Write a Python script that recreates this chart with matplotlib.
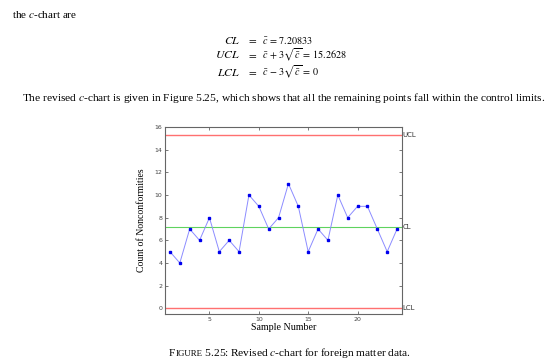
import matplotlib
matplotlib.use("Agg")
import numpy as np
from matplotlib import pyplot as plt

plt.rcParams['mathtext.fontset'] = 'stix'

# revised c-chart data (24 samples)
samples = list(range(1, 25))
counts = [5, 4, 7, 6, 8, 5, 6, 5, 10, 9, 7, 8, 11, 9, 5, 7, 6, 10, 8, 9, 9, 7, 5, 7]

cbar = np.mean(counts)
ucl = cbar + 3 * np.sqrt(cbar)
lcl = max(0, cbar - 3 * np.sqrt(cbar))

serif = 'Liberation Serif'

fig = plt.figure(figsize=(5.6, 3.64), dpi=100)

# page text above the figure
fig.text(12/560, 1 - 15/364, 'the $c$-chart are', family=serif, fontsize=8, va='center')
rows = [('$CL$', r'$\bar{c}\,=\,7.20833$', 40),
        ('$UCL$', r'$\bar{c}\,+\,3\sqrt{\bar{c}}\,=\,15.2628$', 55),
        ('$LCL$', r'$\bar{c}\,-\,3\sqrt{\bar{c}}\,=\,0$', 72)]
for lhs, rhs, y in rows:
    fig.text(240/560, 1 - y/364, lhs, fontsize=8.5, ha='right', va='center')
    fig.text(252/560, 1 - y/364, '$=$', fontsize=8, ha='center', va='center')
    fig.text(262/560, 1 - y/364, rhs, fontsize=7.3, ha='left', va='center')

fig.text(22/560, 1 - 98/364,
         'The revised $c$-chart is given in Figure 5.25, which shows that all the remaining points fall within the control limits.',
         family=serif, fontsize=8.2, va='center', ha='left')

ax = fig.add_axes([165/560, 50/364, 237/560, 187/364])
ax.axhline(ucl, color='#ff7070', lw=1)
ax.axhline(cbar, color='#5fd35f', lw=0.8)
ax.axhline(lcl, color='#ff7070', lw=1)
ax.plot(samples, counts, color='#8c8cff', lw=0.7, marker='s', ms=2,
        mfc='#0000ee', mec='#0000ee')

ax.set_xlim(0.5, 24.5)
ax.set_ylim(-0.5, 16)
ax.set_xticks([5, 10, 15, 20])
ax.set_yticks(range(0, 17, 2))
ax.tick_params(direction='in', length=2, width=0.5, labelsize=4.5, colors='#444444',
               top=True, right=True, pad=2)
for s in ax.spines.values():
    s.set_color('#666666')
    s.set_linewidth(0.8)

for val, lab in [(ucl, 'UCL'), (cbar, 'CL'), (lcl, 'LCL')]:
    ax.text(24.55, val, lab, fontsize=5, va='center', ha='left', color='#333333')

ax.set_xlabel('Sample Number', family=serif, fontsize=7.2, labelpad=1)
ax.set_ylabel('Count of Nonconformities', family=serif, fontsize=7, labelpad=6)

# caption with small-caps "FIGURE"
cap_y = 1 - 356/364
fig.canvas.draw()
r = fig.canvas.get_renderer()
parts = [('F', 8.2), ('IGURE', 6.4), (' 5.25: Revised $c$-chart for foreign matter data.', 8.2)]
texts = [fig.text(0, cap_y, s, family=serif, fontsize=fs, va='baseline') for s, fs in parts]
widths = [t.get_window_extent(r).width for t in texts]
x = 290 - sum(widths) / 2
for t, w in zip(texts, widths):
    t.set_x(x / 560)
    x += w

fig.savefig('out.png', dpi=100)
